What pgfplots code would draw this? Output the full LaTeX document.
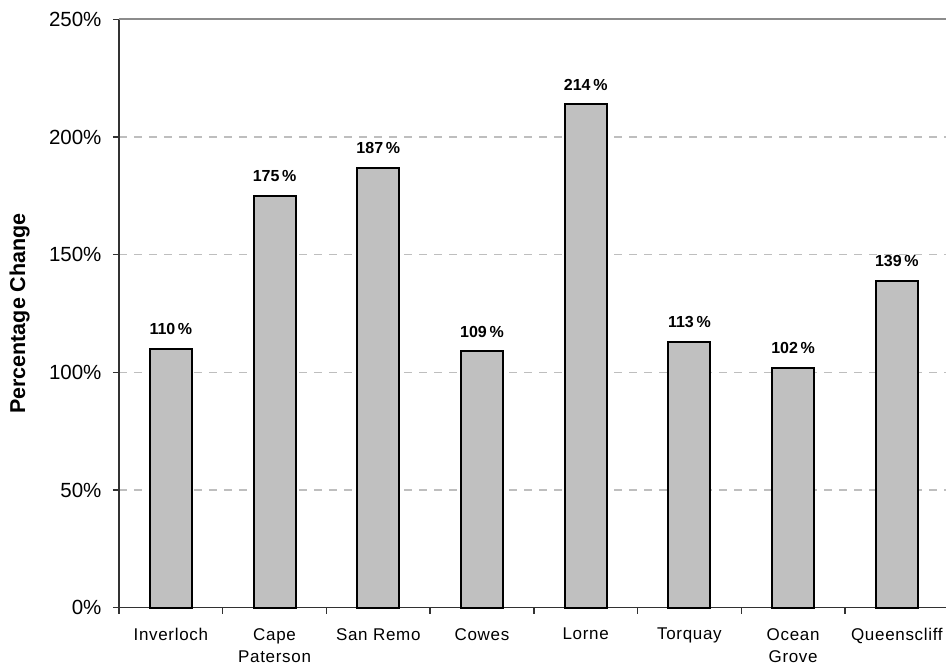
\documentclass[border=0pt]{standalone}
\usepackage{fontspec}
\setmainfont{Liberation Sans}
\usepackage{pgfplots}
\pgfplotsset{compat=1.18}
\definecolor{barfill}{RGB}{192,192,192}
\definecolor{gridgray}{RGB}{190,190,190}
\definecolor{topgray}{RGB}{140,140,140}
\definecolor{axisgray}{RGB}{50,50,50}

\begin{document}
\begin{tikzpicture}
% fixed page frame (1pt per pixel)
\useasboundingbox (-119pt,-57.3pt) rectangle (827pt,607.7pt);
\begin{axis}[
  at={(0pt,0pt)}, anchor=south west,
  scale only axis,
  width=829.7pt, height=588.3pt,
  xmin=-0.5, xmax=7.5,
  ymin=0, ymax=250,
  axis x line=bottom, axis y line=left,
  axis line style={-, line width=1.3pt, color=axisgray},
  /pgf/number format/assume math mode=true,
  ytick={0,50,100,150,200,250},
  yticklabels={0\%,50\%,100\%,150\%,200\%,250\%},
  yticklabel style={font=\fontsize{20.5}{24}\selectfont, color=black, xshift=-8pt},
  xtick={0,1,2,3,4,5,6,7},
  xticklabels={Inverloch,Cape\\Paterson,San Remo,Cowes,Lorne,Torquay,Ocean\\Grove,Queenscliff},
  xticklabel style={font=\fontsize{17}{22.6}\selectfont\addfontfeature{LetterSpace=4}, align=center, anchor=north, color=black, yshift=-11pt},
  major x tick style={draw=none},
  minor xtick={-0.5,0.5,1.5,2.5,3.5,4.5,5.5,6.5,7.5},
  tick align=outside,
  major tick length=6pt, minor tick length=6pt,
  tick style={line width=1.3pt, color=axisgray},
  ymajorgrids,
  grid style={dashed, dash pattern=on 8pt off 7pt, line width=1.2pt, color=gridgray},
  ylabel={\textbf{Percentage Change}},
  ylabel style={font=\fontsize{21.5}{24}\selectfont, at={(axis description cs:-0.1197,0.5)}, anchor=center},
  ybar, bar width=42pt,
  nodes near coords={\textbf{\pgfmathprintnumber{\pgfplotspointmeta}\,\%}},
  every node near coord/.append style={font=\fontsize{16}{19}\selectfont, anchor=base, yshift=14pt, inner sep=0pt, color=black},
  clip=false,
]
\addplot[fill=barfill, draw=black, line width=2pt, bar shift=0pt] coordinates {
  (0,110) (1,175) (2,187) (3,109) (4,214) (5,113) (6,102) (7,139)
};
\draw[topgray, line width=2pt] (axis cs:-0.5,250) -- (axis cs:7.5,250);
\end{axis}
\end{tikzpicture}
\end{document}
